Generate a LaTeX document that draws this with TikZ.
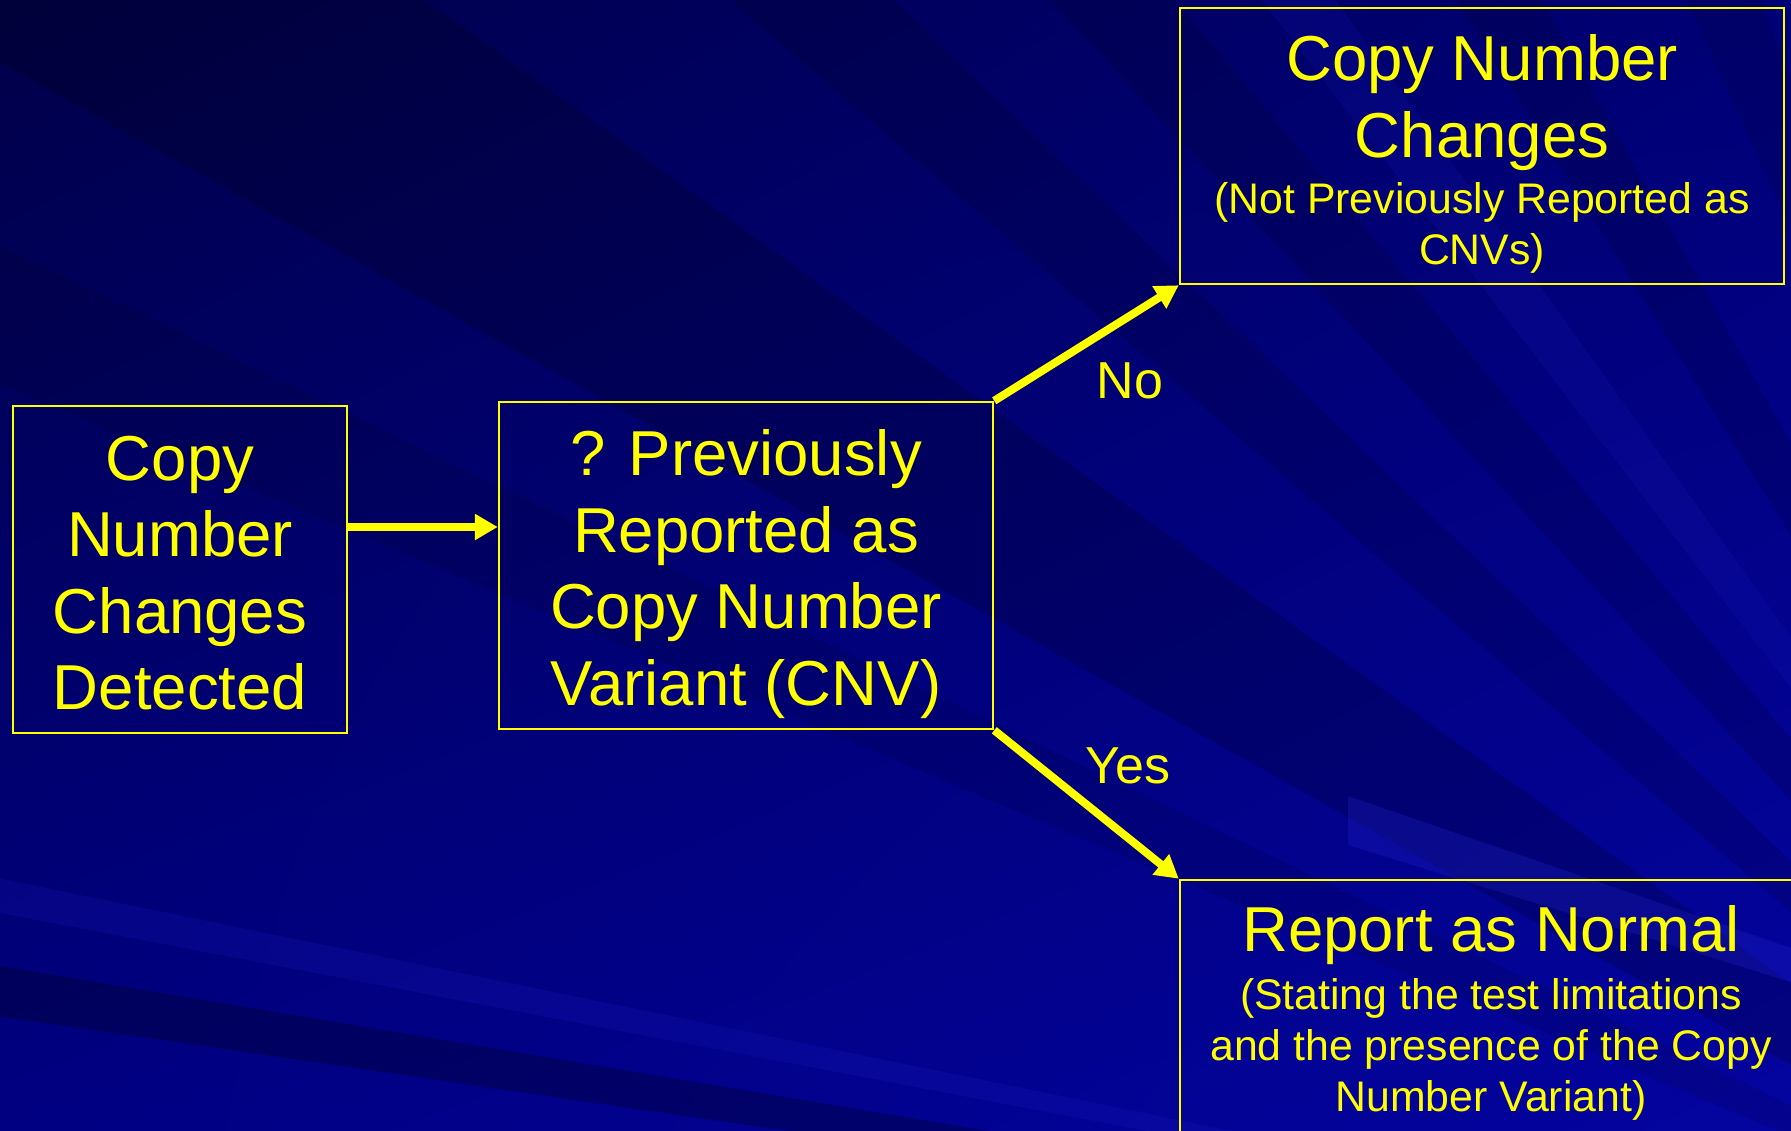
\documentclass[tikz,border=0pt]{standalone}
\usepackage{fontspec}
\setmainfont{Liberation Sans}
\usetikzlibrary{arrows.meta,calc,shadings}

\definecolor{cnvyellow}{RGB}{255,255,0}
\definecolor{bgUL}{RGB}{0,0,72}
\definecolor{bgUR}{RGB}{0,0,118}
\definecolor{bgLL}{RGB}{0,0,130}
\definecolor{bgLR}{RGB}{4,4,160}
\definecolor{rayglow}{RGB}{40,40,215}

\newcommand\titlesize{\fontsize{31.75pt}{38.25pt}\selectfont}
\newcommand\notesize{\fontsize{21.4pt}{25pt}\selectfont}
\newcommand\branchsize{\fontsize{26pt}{30pt}\selectfont}
% one ray of the background sunburst, given by two slopes seen from the focus
\newcommand\sunray[3]{\fill[#3] (focus) -- ++(-3000,{-3000*#1}) -- ++(0,{-3000*(#2-#1)}) -- cycle;}

\begin{document}
\begin{tikzpicture}[x=0.5pt,y=-0.5pt,
  frame/.style={draw=cnvyellow, line width=1.25pt, inner sep=0pt},
  boxtext/.style={text=cnvyellow, align=center, inner sep=0pt, font=\titlesize},
  flow/.style={draw=cnvyellow, line width=4pt, -{Triangle[length=11.5pt,width=12.5pt]}},
  branch/.style={text=cnvyellow, font=\branchsize, inner sep=0pt},
  raydark/.style={fill=black, fill opacity=#1},
  raylight/.style={fill=rayglow, fill opacity=#1}]

\useasboundingbox (0,0) rectangle (1791,1130);
\clip (0,0) rectangle (1791,1130);

% background: navy gradient with faint rays
\shade[upper left=bgUL, upper right=bgUR, lower left=bgLL, lower right=bgLR]
  (0,0) rectangle (1791,1130);
\coordinate (focus) at (2300,1350);
\sunray{0.56}{0.72}{raydark=0.18}
\sunray{0.86}{0.96}{raydark=0.13}
\sunray{1.08}{1.20}{raydark=0.13}
\sunray{0.42}{0.48}{raydark=0.10}
\sunray{1.60}{1.78}{raydark=0.13}
\sunray{2.20}{2.50}{raydark=0.10}
\sunray{0.145}{0.167}{raydark=0.25}
\sunray{1.30}{1.40}{raylight=0.12}
\sunray{0.19}{0.205}{raylight=0.15}
\fill[raylight=0.25] (1348,796) -- (1791,948) -- (1791,982) -- (1348,845) -- cycle;

% flowchart boxes
\node[frame, minimum width=167pt, minimum height=163.5pt] (b1) at (180,569.5) {};
\node[frame, minimum width=247pt, minimum height=163.5pt] (b2) at (746,565.5) {};
\node[frame, minimum width=302pt, minimum height=138pt] (b3) at (1482,146) {};
\node[frame, minimum width=311pt, minimum height=135pt] (b4) at (1491,1015) {};

% box texts
\node[boxtext] (t1) at (180,573) {Copy\\Number\\Changes\\Detected};
\node[boxtext] (t2) at (746,574) {? Previously\\Reported as\\Copy Number\\Variant (CNV)};
\node[boxtext] (t3) at (1482,154)
  {Copy Number\\Changes\\[-10pt]{\notesize (Not Previously Reported as}\\[-12.75pt]{\notesize CNVs)}};
\node[boxtext] (t4) at (1491,1013)
  {Report as Normal\\[-9.6pt]{\notesize (Stating the test limitations}\\[-12.75pt]{\notesize and the presence of the Copy}\\[-12.75pt]{\notesize Number Variant)}};

% branch labels
\node[branch] (no) at (1130,381) {No};
\node[branch] (yes) at (1128,766) {Yes};

% connectors
\coordinate (armY) at (0,527);
\draw[flow] (b1.east |- armY) -- (b2.west |- armY);
\draw[flow] (b2.north east) -- (b3.south west);
\draw[flow] (b2.south east) -- (b4.north west);
\end{tikzpicture}
\end{document}
